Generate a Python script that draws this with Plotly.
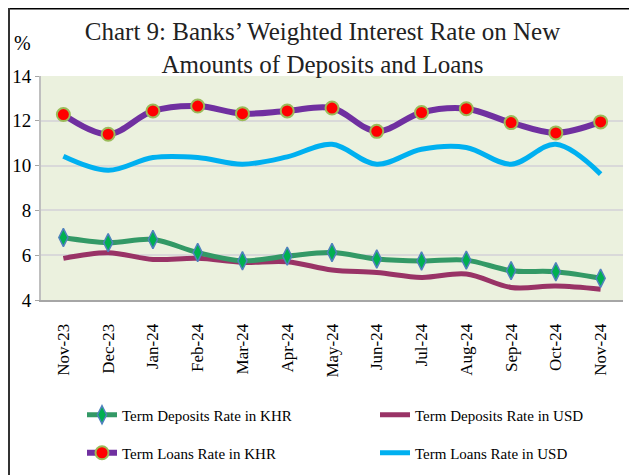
import plotly.graph_objects as go

months = ["Nov-23", "Dec-23", "Jan-24", "Feb-24", "Mar-24", "Apr-24", "May-24",
          "Jun-24", "Jul-24", "Aug-24", "Sep-24", "Oct-24", "Nov-24"]
dep_khr = [6.79, 6.56, 6.70, 6.12, 5.75, 5.96, 6.12, 5.83, 5.74, 5.78, 5.31, 5.26, 4.97]
dep_usd = [5.86, 6.11, 5.81, 5.86, 5.68, 5.71, 5.34, 5.23, 5.01, 5.16, 4.56, 4.62, 4.48]
loan_khr = [12.28, 11.40, 12.44, 12.66, 12.32, 12.44, 12.57, 11.53, 12.37, 12.54, 11.92, 11.46, 11.95]
loan_usd = [10.42, 9.79, 10.36, 10.36, 10.06, 10.39, 10.95, 10.06, 10.73, 10.81, 10.06, 10.95, 9.62]

FONT = "Liberation Serif, Times New Roman, serif"

fig = go.Figure()
fig.add_trace(go.Scatter(
    x=months, y=dep_usd, name="Term Deposits Rate in USD", mode="lines",
    line=dict(color="#993366", width=5, shape="spline", smoothing=1.0),
    legend="legend2"))
fig.add_trace(go.Scatter(
    x=months, y=dep_khr, name="Term Deposits Rate in KHR", mode="lines+markers",
    line=dict(color="#339966", width=5, shape="spline", smoothing=1.0),
    marker=dict(symbol="diamond-tall", size=13, color="#00B050",
                line=dict(color="#4F81BD", width=1.5)),
    legend="legend"))
fig.add_trace(go.Scatter(
    x=months, y=loan_usd, name="Term Loans Rate in USD", mode="lines",
    line=dict(color="#00B0F0", width=5, shape="spline", smoothing=1.0),
    legend="legend4"))
fig.add_trace(go.Scatter(
    x=months, y=loan_khr, name="Term Loans Rate in KHR", mode="lines+markers",
    line=dict(color="#7030A0", width=6, shape="spline", smoothing=1.0),
    marker=dict(symbol="circle", size=13, color="#FF0000",
                line=dict(color="#9BBB59", width=2)),
    legend="legend3"))

# page body has an 8px margin; figure is sized to fit the 637x475 window
W, H = 629, 467
PL, PT, PW, PH = 33, 68, 582, 224   # plot area in figure pixels

def px(x):
    return (x - 8 - PL) / PW

def py(y):
    return (PT + PH - (y - 8)) / PH

def cx(x):
    return (x - 8) / W

def cy(y):
    return 1 - (y - 8) / H

leg_common = dict(orientation="h", xanchor="left", yanchor="middle",
                  xref="container", yref="container",
                  font=dict(family=FONT, size=15, color="#000000"),
                  bgcolor="rgba(0,0,0,0)", itemwidth=30)

fig.update_layout(
    width=W, height=H,
    margin=dict(l=PL, r=W - PL - PW, t=PT, b=H - PT - PH, autoexpand=False),
    paper_bgcolor="#FFFFFF",
    plot_bgcolor="#EBF1DE",
    title=dict(text="Chart 9: Banks’ Weighted Interest Rate on New<br>Amounts of Deposits and Loans",
               x=0.5, xanchor="center", y=1 - 32 / H, yanchor="middle", yref="container",
               font=dict(family=FONT, size=25, color="#222222")),
    xaxis=dict(type="category", range=[-0.5, 12.5], showgrid=False, automargin=False,
               tickangle=-90, tickfont=dict(family=FONT, size=17, color="#000000"),
               ticklabelstandoff=15,
               showline=True, linecolor="#A6A6A6", linewidth=2, ticks=""),
    yaxis=dict(range=[4, 14], dtick=2, showgrid=True, gridcolor="#D9D9D9", gridwidth=2,
               showline=True, linecolor="#BFBFBF", linewidth=2, ticks="outside",
               ticklen=4, tickcolor="#A6A6A6", zeroline=False, automargin=False,
               tickfont=dict(family=FONT, size=19, color="#000000")),
    legend=dict(x=cx(82), y=cy(415), **leg_common),
    legend2=dict(x=cx(375), y=cy(415), **leg_common),
    legend3=dict(x=cx(82), y=cy(453), **leg_common),
    legend4=dict(x=cx(375), y=cy(453), **leg_common),
    showlegend=True,
    annotations=[dict(text="%", xref="paper", yref="paper",
                      x=px(22), y=py(43), showarrow=False,
                      xanchor="center", yanchor="middle",
                      font=dict(family=FONT, size=20, color="#000000"))],
    shapes=[
        dict(type="line", xref="paper", yref="paper",
             x0=px(9), x1=px(637), y0=py(8), y1=py(8),
             line=dict(color="#000000", width=3)),
        dict(type="line", xref="paper", yref="paper",
             x0=px(9), x1=px(9), y0=py(8), y1=py(476),
             line=dict(color="#333333", width=2)),
    ],
)

fig.write_html("out.html")
